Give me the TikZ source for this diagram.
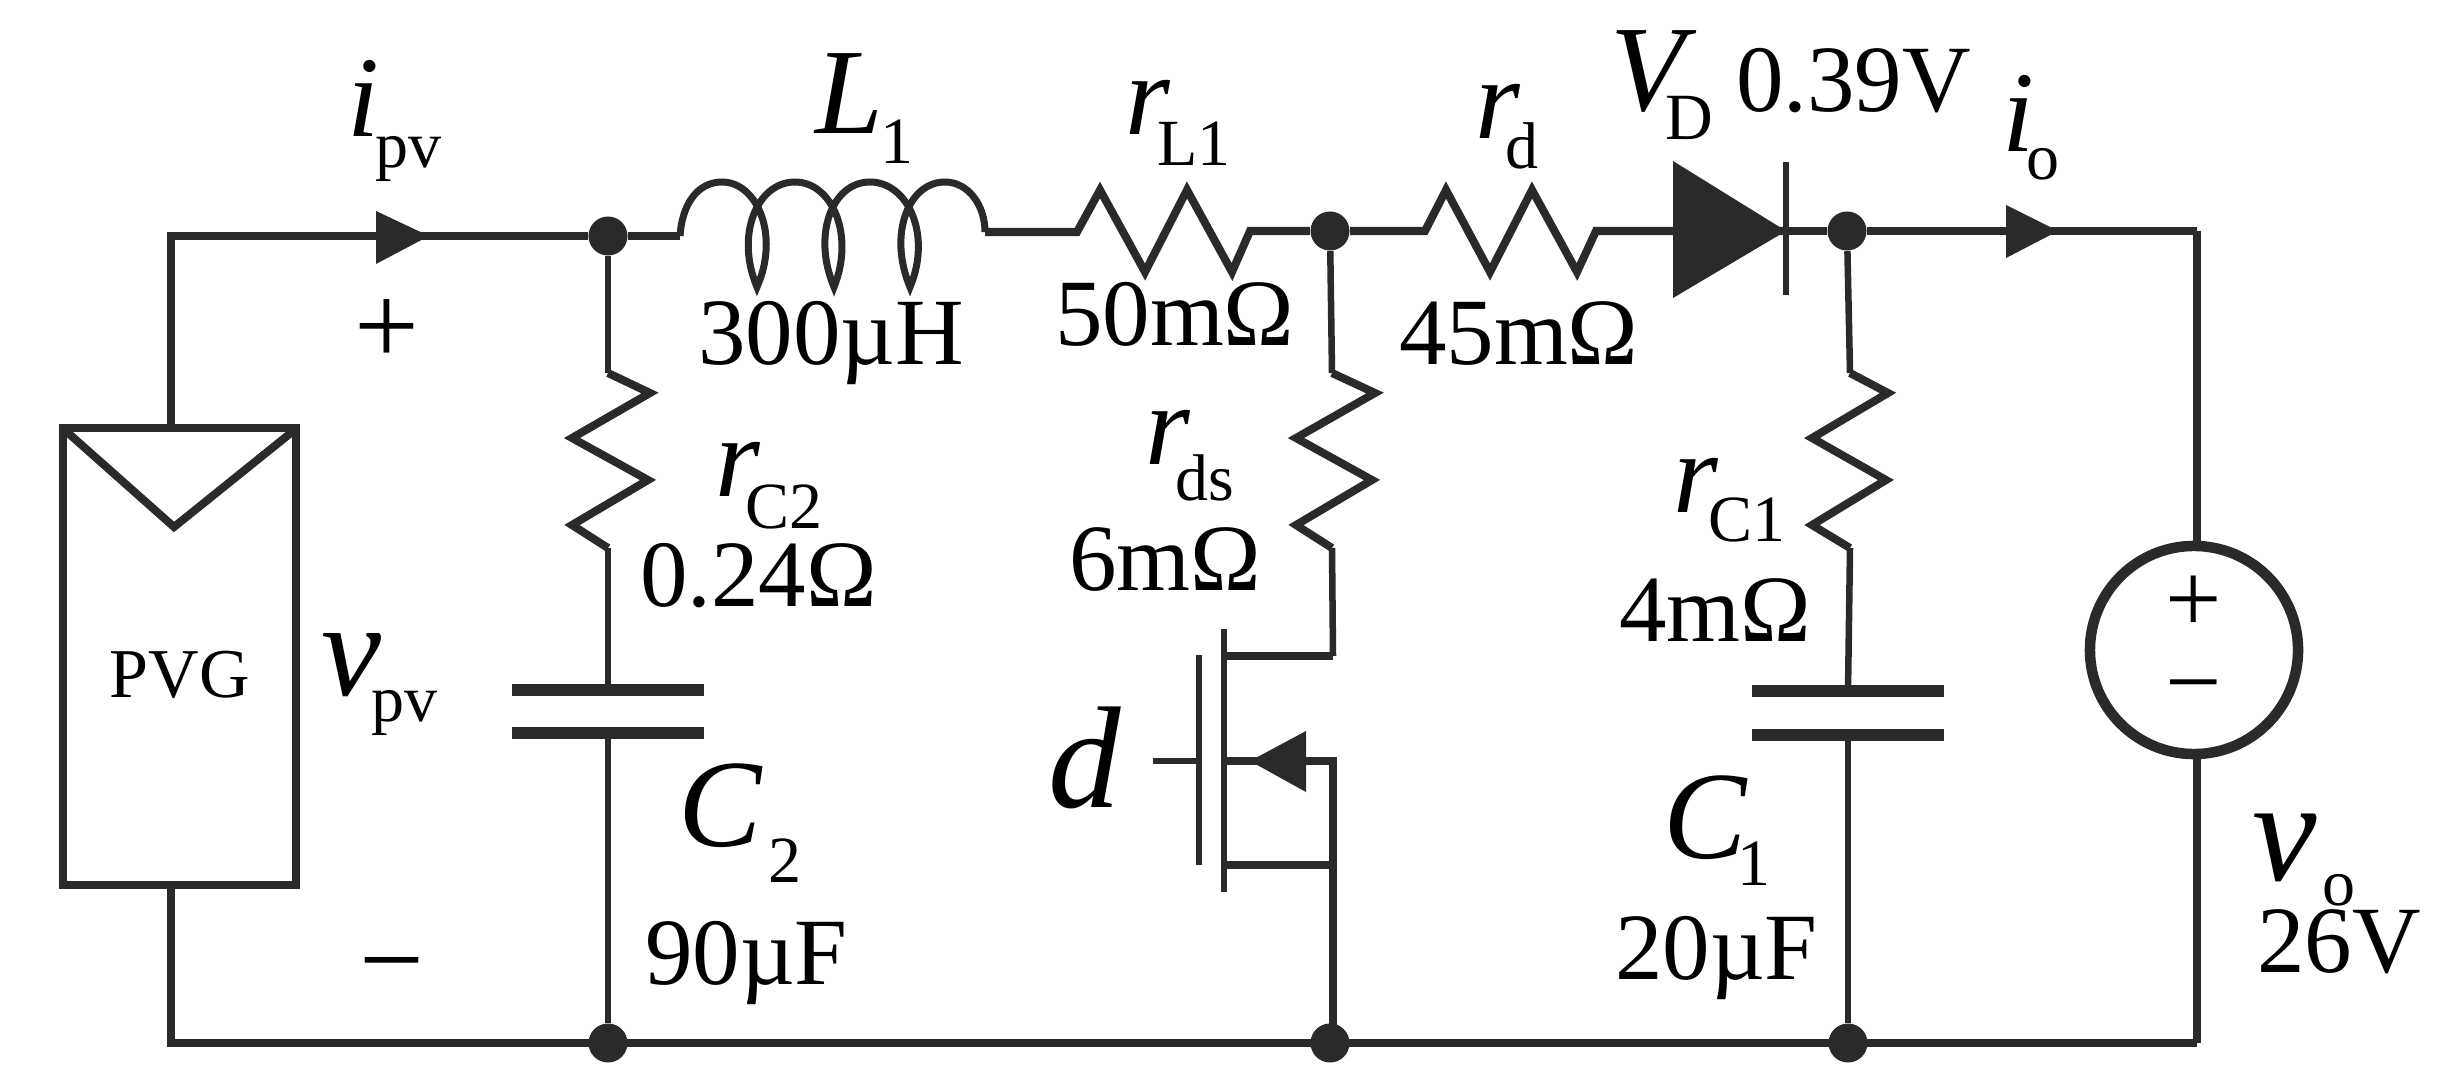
\documentclass[tikz,border=0pt]{standalone}
\usepackage{graphicx}
\usepackage{fontspec}
\setmainfont{Liberation Serif}
\newdimen\pxu \pxu=0.01cm
\definecolor{ink}{HTML}{2A2A28}
\newcommand\up[1]{\fontsize{95\pxu}{95\pxu}\selectfont #1}
\newcommand\lab[5]{\makebox[#3\pxu][l]{\fontsize{#1\pxu}{#1\pxu}\selectfont\itshape #2}\raisebox{-#4\pxu}{\fontsize{66\pxu}{66\pxu}\selectfont #5}}
\tikzset{
  wire/.style={draw=ink,line width=0.08cm,line join=miter},
  plate/.style={draw=ink,line width=0.115cm},
  solid tri/.style={fill=ink,draw=none},
  dot/.style={circle,fill=ink,draw=none,minimum size=0.39cm,inner sep=0pt},
  txt/.style={anchor=base west,inner sep=0pt,outer sep=0pt,text=black},
  sym/.style={anchor=center,inner sep=0pt,outer sep=0pt,text=black}
}
\begin{document}
\begin{tikzpicture}[x=0.01cm,y=-0.01cm]
\useasboundingbox[fill=white] (0,0) rectangle (2457,1091);
% junctions
\node[dot] (j1) at (608,236) {};
\node[dot] (j2) at (1330,231) {};
\node[dot] (j3) at (1847,231) {};
\node[dot] (j4) at (608,1043) {};
\node[dot] (j5) at (1330,1043) {};
\node[dot] (j6) at (1848,1043) {};
% PV generator
\node[draw=ink,line width=0.08cm,minimum width=2.33cm,minimum height=4.57cm,inner sep=0pt] (pvg) at (179.5,656.5) {};
\node[txt] (pvgt) at (110,697) {\fontsize{70\pxu}{70\pxu}\selectfont PVG};
\coordinate (vl) at (67,432); \coordinate (vm) at (174,527); \coordinate (vr) at (292,432);
\draw[wire] (vl) -- (vm) -- (vr);
% outer wiring
\coordinate (tl) at (171,236);
\coordinate (bl) at (171,1043);
\coordinate (br) at (2197,1043);
\coordinate (tr) at (2197,231);
\coordinate (pvtop) at (171,428);
\coordinate (pvbot) at (171,885);
\draw[wire] (pvtop) -- (tl) -- (j1);
\draw[wire] (pvbot) -- (bl) -- (br);
% ipv arrow
\coordinate (a1t) at (376,211); \coordinate (a1b) at (376,264); \coordinate (a1p) at (429,236);
\fill[solid tri] (a1t) -- (a1p) -- (a1b) -- cycle;
% inductor
\coordinate (ls) at (680,236);
\coordinate (le) at (985,232);
\draw[wire] (j1) -- (ls);
\draw[wire,line width=0.07cm] (ls) .. controls (682,205) and (697,182) .. (722,182)
  .. controls (757,182) and (780,235) .. (757,287)
  .. controls (735,235) and (757,182) .. (795,182)
  .. controls (832,182) and (855,235) .. (834,287)
  .. controls (812,235) and (832,182) .. (870,182)
  .. controls (908,182) and (932,235) .. (910,287)
  .. controls (888,235) and (908,182) .. (945,182)
  .. controls (968,182) and (985,205) .. (le);
% r_L1
\coordinate (rl1) at (1077,232);
\coordinate (rl2) at (1250,231);
\draw[wire] (le) -- (rl1) -- (1100,190) -- (1145,272) -- (1187,190) -- (1232,272) -- (rl2) -- (j2);
% r_d
\coordinate (rd1) at (1425,231);
\coordinate (rd2) at (1596,231);
\coordinate (dk) at (1786,231);
\draw[wire] (j2) -- (rd1) -- (1446,190) -- (1490,272) -- (1532,190) -- (1577,272) -- (rd2) -- (dk);
% diode
\coordinate (da) at (1673,161); \coordinate (db) at (1673,298);
\coordinate (bt) at (1786,162); \coordinate (bb) at (1786,295);
\fill[solid tri] (da) -- (dk) -- (db) -- cycle;
\draw[wire,line width=0.065cm] (bt) -- (bb);
\draw[wire] (dk) -- (j3) -- (tr);
% io arrow
\coordinate (a2t) at (2006,205); \coordinate (a2b) at (2006,258); \coordinate (a2p) at (2058,231);
\fill[solid tri] (a2t) -- (a2p) -- (a2b) -- cycle;
% source
\node[circle,draw=ink,line width=0.105cm,minimum size=2.08cm,inner sep=0pt] (src) at (2194,650) {};
\draw[wire] (tr) -- (2197,545);
\draw[wire] (2197,755) -- (br);
\node[sym] (sp) at (2194,604) {\fontsize{100\pxu}{100\pxu}\selectfont +};
\node[sym] (sm) at (2194,698) {\fontsize{100\pxu}{100\pxu}\selectfont −};
% C2 branch
\coordinate (c2a) at (608,690); \coordinate (c2b) at (608,733);
\draw[wire,line width=0.065cm] (j1) -- (608,373);
\draw[wire] (608,373) -- (650,393) -- (572,438) -- (648,480) -- (572,525) -- (608,548);
\draw[wire,line width=0.065cm] (608,548) -- (c2a);
\draw[plate] (512,690) -- (704,690);
\draw[plate] (512,733) -- (704,733);
\draw[wire,line width=0.065cm] (c2b) -- (j4);
% r_ds and mosfet
\coordinate (dr) at (1333,656);
\coordinate (sr) at (1333,761);
\coordinate (chT) at (1224,629); \coordinate (chB) at (1224,892);
\draw[wire,line width=0.065cm] (j2) -- (1332,373);
\draw[wire] (1332,373) -- (1375,393) -- (1296,438) -- (1372,480) -- (1296,525) -- (1332,548);
\draw[wire,line width=0.065cm] (1332,548) -- (dr);
\draw[wire] (dr) -- (1224,656);
\draw[wire,line width=0.065cm] (chT) -- (chB);
\draw[wire,line width=0.065cm] (1199,655) -- (1199,865);
\draw[wire,line width=0.065cm] (1153,761) -- (1199,761);
\draw[wire] (1224,761) -- (sr) -- (1333,1043);
\draw[wire] (1224,865) -- (1333,865);
\coordinate (t3p) at (1250,761); \coordinate (t3a) at (1306,731); \coordinate (t3b) at (1306,792);
\fill[solid tri] (t3p) -- (t3a) -- (t3b) -- cycle;
% C1 branch
\coordinate (c1a) at (1848,691); \coordinate (c1b) at (1848,735);
\draw[wire,line width=0.065cm] (j3) -- (1850,373);
\draw[wire] (1850,373) -- (1888,393) -- (1812,438) -- (1886,480) -- (1812,525) -- (1850,548);
\draw[wire,line width=0.065cm] (1850,548) -- (c1a);
\draw[plate] (1752,691) -- (1944,691);
\draw[plate] (1752,735) -- (1944,735);
\draw[wire,line width=0.065cm] (c1b) -- (j6);
% labels
\node[txt] (tipv) at (347,137) {\lab{115}{i}{28}{31}{pv}};
\node[txt] (tl1) at (815,134) {\lab{122}{L}{65}{30}{1}};
\node[txt] (trl1) at (1125,135) {\lab{115}{r}{32}{31}{L1}};
\node[txt] (t300) at (698,364) {\up{300µH}};
\node[txt] (t50) at (1055,345) {\up{50mΩ}};
\node[sym] (tplus) at (387,332) {\fontsize{115\pxu}{115\pxu}\selectfont +};
\node[sym] (tminus) at (392,978) {\fontsize{115\pxu}{115\pxu}\selectfont −};
\node[txt] (trc2) at (715,496) {\lab{115}{r}{30}{32}{C2}};
\node[txt] (t024) at (640,606) {\up{0.24Ω}};
\node[txt] (trds) at (1145,464) {\lab{115}{r}{30}{36}{ds}};
\node[txt] (t6m) at (1069,590) {\up{6mΩ}};
\node[txt] (trd) at (1475,139) {\lab{115}{r}{30}{30}{d}};
\node[txt] (t45) at (1399,364) {\up{45mΩ}};
\node[txt] (tvd) at (1610,111) {\lab{122}{V}{55}{29}{D}};
\node[txt] (t039) at (1736,112) {\up{0.39V}};
\node[txt] (tio) at (2002,152) {\lab{115}{i}{24}{28}{o}};
\node[txt] (trc1) at (1673,512) {\lab{115}{r}{35}{29}{C1}};
\node[txt] (t4m) at (1619,641) {\up{4mΩ}};
\node[txt] (tc1) at (1663,858) {\lab{125}{C}{74}{27}{1}};
\node[txt] (t20) at (1615,979) {\up{20µF}};
\node[txt] (td) at (1048,807) {\fontsize{145\pxu}{145\pxu}\selectfont\itshape d};
\node[txt] (tc2) at (678,846) {\lab{125}{C}{90}{36}{2}};
\node[txt] (t90) at (645,984) {\up{90µF}};
\node[txt] (tvpv) at (321,695) {\lab{135}{v}{50}{26}{pv}};
\node[txt] (tvo) at (2252,880) {\lab{145}{v}{70}{25}{o}};
\node[txt] (t26) at (2257,972) {\up{26V}};
\end{tikzpicture}
\end{document}
